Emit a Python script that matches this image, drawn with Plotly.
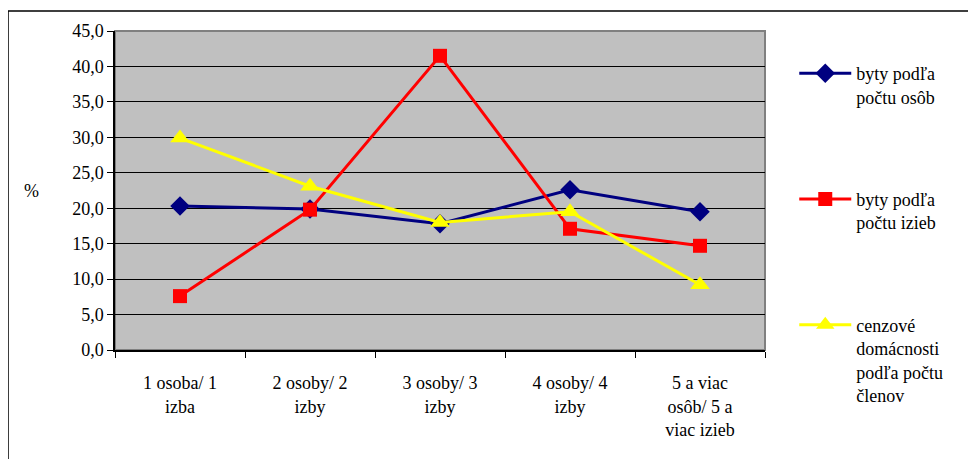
import plotly.graph_objects as go

categories = ["1 osoba/ 1<br>izba", "2 osoby/ 2<br>izby", "3 osoby/ 3<br>izby",
              "4 osoby/ 4<br>izby", "5 a viac<br>osôb/ 5 a<br>viac izieb"]
byty_osob = [20.3, 19.9, 17.8, 22.6, 19.5]
byty_izieb = [7.6, 19.8, 41.5, 17.1, 14.7]
cenzove = [29.9, 23.1, 18.0, 19.5, 9.2]
names = ["byty podľa<br>počtu osôb", "byty podľa<br>počtu izieb",
         "cenzové<br>domácnosti<br>podľa počtu<br>členov"]
y_ticks = [0, 5, 10, 15, 20, 25, 30, 35, 40, 45]

FONT = "'Times New Roman', 'Liberation Serif', 'DejaVu Serif', serif"

fig = go.Figure()
fig.add_trace(go.Scatter(x=categories, y=byty_osob, name=names[0], mode="lines+markers",
                         line=dict(color="#000080", width=3),
                         marker=dict(symbol="diamond", size=15, color="#000080"),
                         legendgroup="a"))
fig.add_trace(go.Scatter(x=categories, y=byty_izieb, name=names[1], mode="lines+markers",
                         line=dict(color="#FF0000", width=3),
                         marker=dict(symbol="square", size=14, color="#FF0000"),
                         legendgroup="b"))
fig.add_trace(go.Scatter(x=categories, y=cenzove, name=names[2], mode="lines+markers",
                         line=dict(color="#FFFF00", width=3),
                         marker=dict(symbol="triangle-up", size=17, color="#FFFF00"),
                         legendgroup="c"))

fig.update_layout(
    width=968, height=451,
    margin=dict(l=107, r=211, t=23, b=109),
    paper_bgcolor="white", plot_bgcolor="#C0C0C0",
    font=dict(family=FONT, size=18, color="black"),
    separators=",.",
    showlegend=True,
    legend=dict(x=1.045, y=0.925, xanchor="left", yanchor="top",
                valign="top", tracegroupgap=76, itemwidth=52, maxheight=440,
                font=dict(family=FONT, size=18), bgcolor="rgba(0,0,0,0)"),
    xaxis=dict(showgrid=False, showline=True, linecolor="black", linewidth=1.5,
               ticks="outside", ticklen=6, tickcolor="black", tickson="boundaries",
               range=[-0.5, 4.5], tickfont=dict(family=FONT, size=18),
               ticklabelstandoff=16),
    yaxis=dict(range=[0, 45], tickvals=y_ticks, tickformat=".1f",
               showgrid=True, gridcolor="black", gridwidth=1,
               showline=True, linecolor="black", linewidth=1.5,
               ticks="outside", ticklen=6, tickcolor="black", zeroline=False,
               tickfont=dict(family=FONT, size=18)),
    shapes=[
        dict(type="rect", xref="paper", yref="paper", x0=0, x1=1, y0=0, y1=1,
             line=dict(color="#808080", width=2), layer="below"),
        dict(type="rect", xref="paper", yref="paper", x0=-0.1646, x1=1.317,
             y0=-0.5, y1=1.063, line=dict(color="black", width=1.5)),
    ],
    annotations=[
        dict(text="%", xref="paper", yref="paper", x=-0.143, y=0.5,
             showarrow=False, font=dict(family=FONT, size=18)),
    ],
)

fig.write_html("out.html")
